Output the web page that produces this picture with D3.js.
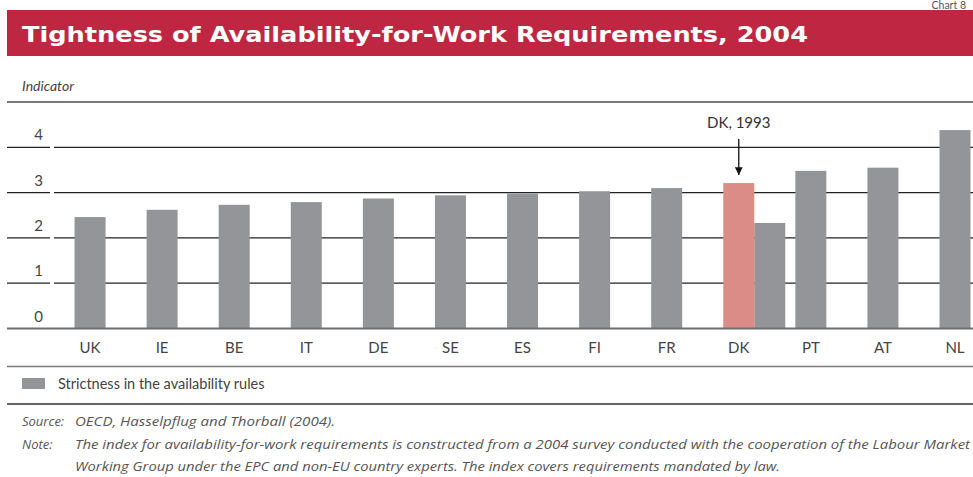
<!DOCTYPE html>
<html>
<head>
<meta charset="utf-8">
<script src="https://cdn.jsdelivr.net/npm/d3@7"></script>
<style>
  html, body { margin: 0; padding: 0; background: #fff; }
  svg { display: block; }
</style>
</head>
<body>
<svg id="chart" width="973" height="477" font-family="Lato, 'Open Sans', sans-serif"></svg>
<script>
// Availability-for-work strictness index by country, 2004
const categories = ["UK", "IE", "BE", "IT", "DE", "SE", "ES", "FI", "FR", "DK", "PT", "AT", "NL"];
const values2004 = [2.46, 2.62, 2.73, 2.79, 2.87, 2.94, 2.98, 3.03, 3.10, 2.33, 3.48, 3.55, 4.38];
// Denmark's 1993 reading, shown next to its 2004 bar
const dk1993 = { country: "DK", label: "DK, 1993", value: 3.21 };
const yTicks = [0, 1, 2, 3, 4];

const svg = d3.select("#chart");
const W = 973;

// Header bar
svg.append("text").attr("x", 966).attr("y", 8.5).attr("text-anchor", "end")
  .attr("font-size", 10.5).attr("fill", "#555").text("Chart 8");
svg.append("rect").attr("x", 7).attr("y", 10).attr("width", W - 7).attr("height", 46).attr("fill", "#BE2641");
svg.append("text")
  .attr("x", 22).attr("y", 42)
  .attr("font-family", "'DejaVu Sans', sans-serif")
  .attr("font-weight", "bold").attr("font-size", 21)
  .attr("fill", "#fff")
  .attr("textLength", 786).attr("lengthAdjust", "spacingAndGlyphs")
  .text("Tightness of Availability-for-Work Requirements, 2004");

svg.append("text").attr("x", 22).attr("y", 91)
  .attr("font-size", 14).attr("font-style", "italic").attr("fill", "#444")
  .text("Indicator");

svg.append("line").attr("x1", 7).attr("x2", W).attr("y1", 102).attr("y2", 102)
  .attr("stroke", "#7a7a7a").attr("stroke-width", 2);

// Scales
const x = d3.scaleBand().domain(categories).range([54, 54 + 72.08 * 13]).paddingInner(0.57).paddingOuter(0.285);
const y = d3.scaleLinear().domain([0, 4]).range([328.5, 147.3]);
const bw = x.bandwidth();

// Gridlines: a short piece under the tick labels and the main run across the plot
const grid = svg.append("g");
yTicks.filter(t => t > 0).forEach(t => {
  grid.append("line").attr("x1", 7).attr("x2", 50).attr("y1", y(t)).attr("y2", y(t))
    .attr("stroke", "#222").attr("stroke-width", 1.3);
  grid.append("line").attr("x1", 54).attr("x2", W).attr("y1", y(t)).attr("y2", y(t))
    .attr("stroke", "#222").attr("stroke-width", 1.3);
});

// Y tick labels sit just above their gridlines
svg.append("g").selectAll("text").data(yTicks).join("text")
  .attr("x", 43).attr("y", d => y(d) - 7)
  .attr("text-anchor", "end").attr("font-size", 15).attr("fill", "#444")
  .text(d => d);

// Bars (DK's 2004 bar is set beside its 1993 bar)
const dkIndex = categories.indexOf(dk1993.country);
svg.append("g").selectAll("rect").data(categories).join("rect")
  .attr("x", (d, i) => x(d) + (i === dkIndex ? bw : 0))
  .attr("width", bw)
  .attr("y", (d, i) => y(values2004[i]))
  .attr("height", (d, i) => y(0) - y(values2004[i]))
  .attr("fill", "#939598");

svg.append("rect")
  .attr("x", x(dk1993.country)).attr("width", bw)
  .attr("y", y(dk1993.value)).attr("height", y(0) - y(dk1993.value))
  .attr("fill", "#DB8C86");

// Baseline
svg.append("line").attr("x1", 7).attr("x2", W).attr("y1", y(0)).attr("y2", y(0))
  .attr("stroke", "#6f6f6f").attr("stroke-width", 2);

// Category labels
svg.append("g").selectAll("text").data(categories).join("text")
  .attr("x", d => x(d) + bw / 2).attr("y", 353)
  .attr("text-anchor", "middle").attr("font-size", 15).attr("fill", "#444")
  .text(d => d);

// Annotation arrow for DK 1993
const ax = x(dk1993.country) + bw / 2;
svg.append("defs").append("marker")
  .attr("id", "arrowhead").attr("viewBox", "0 0 10 10")
  .attr("refX", 10).attr("refY", 5).attr("markerWidth", 6).attr("markerHeight", 6)
  .attr("orient", "auto")
  .append("path").attr("d", "M0,0 L10,5 L0,10 Z").attr("fill", "#111");
svg.append("line").attr("x1", ax).attr("x2", ax).attr("y1", 139).attr("y2", y(dk1993.value) - 8)
  .attr("stroke", "#111").attr("stroke-width", 1.3).attr("marker-end", "url(#arrowhead)");
svg.append("text").attr("x", ax).attr("y", 128).attr("text-anchor", "middle")
  .attr("font-size", 15).attr("fill", "#333").text(dk1993.label);

// Legend
svg.append("line").attr("x1", 7).attr("x2", W).attr("y1", 366.5).attr("y2", 366.5)
  .attr("stroke", "#7a7a7a").attr("stroke-width", 1.5);
svg.append("rect").attr("x", 22).attr("y", 378).attr("width", 23).attr("height", 11).attr("fill", "#939598");
svg.append("text").attr("x", 58).attr("y", 389).attr("font-size", 14.5).attr("fill", "#444")
  .text("Strictness in the availability rules");
svg.append("line").attr("x1", 7).attr("x2", W).attr("y1", 404).attr("y2", 404)
  .attr("stroke", "#333").attr("stroke-width", 1.3);

// Source and note
const foot = svg.append("g").attr("font-family", "'Open Sans', Lato, sans-serif")
  .attr("font-size", 13).attr("font-style", "italic").attr("fill", "#555");
foot.append("text").attr("x", 22).attr("y", 426).text("Source:");
foot.append("text").attr("x", 75).attr("y", 426).attr("textLength", 260).attr("lengthAdjust", "spacingAndGlyphs")
  .text("OECD, Hasselpflug and Thorball (2004).");
foot.append("text").attr("x", 22).attr("y", 449).text("Note:");
foot.append("text").attr("x", 75).attr("y", 449).attr("textLength", 895).attr("lengthAdjust", "spacingAndGlyphs")
  .text("The index for availability-for-work requirements is constructed from a 2004 survey conducted with the cooperation of the Labour Market");
foot.append("text").attr("x", 75).attr("y", 471).attr("textLength", 705).attr("lengthAdjust", "spacingAndGlyphs")
  .text("Working Group under the EPC and non-EU country experts. The index covers requirements mandated by law.");
</script>
</body>
</html>
